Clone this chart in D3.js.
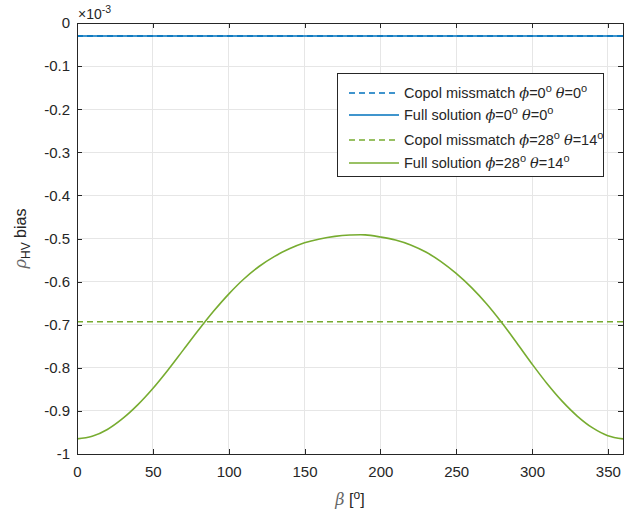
<!DOCTYPE html>
<html><head><meta charset="utf-8">
<script src="https://cdn.jsdelivr.net/npm/d3@7"></script>
<style>body{margin:0;background:#fff}svg{display:block}</style>
</head><body>
<svg id="c" width="641" height="518"></svg>
<script>
// ---- data (values in units of 1e-3) ----
const betaDeg = [0,10,20,30,40,50,60,70,80,90,100,110,120,130,140,150,160,170,180,190,200,210,220,230,240,250,260,270,280,290,300,310,320,330,340,350,360];
const fullSolGreen = [-0.965,-0.959,-0.943,-0.918,-0.886,-0.848,-0.805,-0.759,-0.713,-0.669,-0.629,-0.594,-0.565,-0.542,-0.524,-0.510,-0.501,-0.495,-0.492,-0.4915,-0.4965,-0.5035,-0.515,-0.5315,-0.5535,-0.581,-0.6135,-0.6515,-0.695,-0.7425,-0.791,-0.837,-0.878,-0.9125,-0.9395,-0.9575,-0.965];
const copolGreen = betaDeg.map(() => -0.693);
const fullSolBlue = betaDeg.map(() => -0.03);
const copolBlue = betaDeg.map(() => -0.03);
const xTicks = [0,50,100,150,200,250,300,350];
const yTicks = [0,-0.1,-0.2,-0.3,-0.4,-0.5,-0.6,-0.7,-0.8,-0.9,-1];
const yTickLabels = ["0","-0.1","-0.2","-0.3","-0.4","-0.5","-0.6","-0.7","-0.8","-0.9","-1"];
const legendNames = ["Copol missmatch","Full solution","Copol missmatch","Full solution"];
const legendPhi = ["0","0","28","28"];
const legendTheta = ["0","0","14","14"];

// ---- layout ----
const svg = d3.select("#c");
const L = 77, R = 623, T = 23, B = 454;
const blue = "#0072BD", green = "#77AC30";
const axisCol = "#262626";
const font = "'Liberation Sans', Arial, Helvetica, sans-serif";
const greek = "'DejaVu Serif', serif";

const x = d3.scaleLinear().domain([0,360]).range([L,R]);
const y = d3.scaleLinear().domain([-1,0]).range([B,T]);

// grid
const g = svg.append("g");
g.selectAll("line.gx").data(xTicks.filter(d=>d>0)).enter().append("line")
  .attr("x1",d=>x(d)).attr("x2",d=>x(d)).attr("y1",T).attr("y2",B)
  .attr("stroke","#e6e6e6").attr("stroke-width",1).attr("shape-rendering","crispEdges");
g.selectAll("line.gy").data(yTicks.filter(d=>d>-1 && d<0)).enter().append("line")
  .attr("y1",d=>y(d)).attr("y2",d=>y(d)).attr("x1",L).attr("x2",R)
  .attr("stroke","#e6e6e6").attr("stroke-width",1).attr("shape-rendering","crispEdges");

// lines
const line = d3.line().x((d,i)=>x(betaDeg[i])).y(d=>y(d)).curve(d3.curveCatmullRom);
const series = [
  {v: copolBlue, c: blue, dash: "6,4"},
  {v: fullSolBlue, c: blue, dash: null},
  {v: copolGreen, c: green, dash: "6,4"},
  {v: fullSolGreen, c: green, dash: null}
];
series.forEach(s => {
  svg.append("path").datum(s.v).attr("d", line).attr("fill","none")
    .attr("stroke", s.c).attr("stroke-width", 1.6)
    .attr("stroke-dasharray", s.dash);
});

// axes
function styleAxis(sel){
  sel.select(".domain").attr("stroke",axisCol).attr("stroke-width",1);
  sel.selectAll(".tick line").attr("stroke",axisCol);
  sel.selectAll("text").attr("fill",axisCol).style("font-family",font).style("font-size","15px");
  sel.attr("shape-rendering","crispEdges");
}
const xa = svg.append("g").attr("transform",`translate(0,${B})`)
  .call(d3.axisBottom(x).tickValues(xTicks).tickSizeInner(-5).tickSizeOuter(0).tickPadding(12));
styleAxis(xa);
const xt = svg.append("g").attr("transform",`translate(0,${T})`)
  .call(d3.axisTop(x).tickValues(xTicks).tickSizeInner(-5).tickSizeOuter(0).tickFormat(""));
styleAxis(xt);
const ya = svg.append("g").attr("transform",`translate(${L},0)`)
  .call(d3.axisLeft(y).tickValues(yTicks).tickSizeInner(-5).tickSizeOuter(0).tickPadding(7)
    .tickFormat((d,i)=>yTickLabels[i]));
styleAxis(ya);
const yr = svg.append("g").attr("transform",`translate(${R},0)`)
  .call(d3.axisRight(y).tickValues(yTicks).tickSizeInner(-5).tickSizeOuter(0).tickFormat(""));
styleAxis(yr);

// exponent
const ex = svg.append("text").attr("x",L+1).attr("y",19).attr("fill",axisCol)
  .style("font-family",font).style("font-size","14px");
ex.append("tspan").text("×10");
ex.append("tspan").attr("dy",-6).style("font-size","10.5px").text("-3");

// axis labels
const xl = svg.append("text").attr("x",(L+R)/2).attr("y",505).attr("text-anchor","middle")
  .attr("fill",axisCol).style("font-family",font).style("font-size","16px");
xl.append("tspan").style("font-style","italic").style("font-family",greek).style("fill","#666").text("β");
xl.append("tspan").text(" [");
xl.append("tspan").attr("dy",-6).style("font-size","12px").text("o");
xl.append("tspan").attr("dy",6).text("]");

const yl = svg.append("text").attr("transform",`translate(26,${(T+B)/2}) rotate(-90)`)
  .attr("text-anchor","middle").attr("fill",axisCol).style("font-family",font).style("font-size","16px");
yl.append("tspan").style("font-style","italic").style("font-family",greek).style("fill","#666").text("ρ");
yl.append("tspan").attr("dy",4).style("font-size","12px").text("HV");
yl.append("tspan").attr("dy",-4).text(" bias");

// legend
const lg = svg.append("g");
lg.append("rect").attr("x",337.5).attr("y",73.5).attr("width",266).attr("height",103)
  .attr("fill","#fff").attr("stroke",axisCol).attr("stroke-width",1);
const rowY = [93,115,140,163];
series.forEach((s,i) => {
  lg.append("line").attr("x1",349).attr("x2",399).attr("y1",rowY[i]).attr("y2",rowY[i])
    .attr("stroke",s.c).attr("stroke-width",1.6).attr("stroke-dasharray",s.dash);
  const t = lg.append("text").attr("x",404).attr("y",rowY[i]+5).attr("fill",axisCol)
    .style("font-family",font).style("font-size","14.5px");
  t.append("tspan").text(legendNames[i] + " ");
  t.append("tspan").style("font-style","italic").style("font-family",greek).text("ϕ");
  t.append("tspan").text("=" + legendPhi[i]);
  t.append("tspan").attr("dy",-6).style("font-size","11px").text("o");
  t.append("tspan").attr("dy",6).text(" ");
  t.append("tspan").style("font-style","italic").style("font-family",greek).text("θ");
  t.append("tspan").text("=" + legendTheta[i]);
  t.append("tspan").attr("dy",-6).style("font-size","11px").text("o");
});
</script>
</body></html>
